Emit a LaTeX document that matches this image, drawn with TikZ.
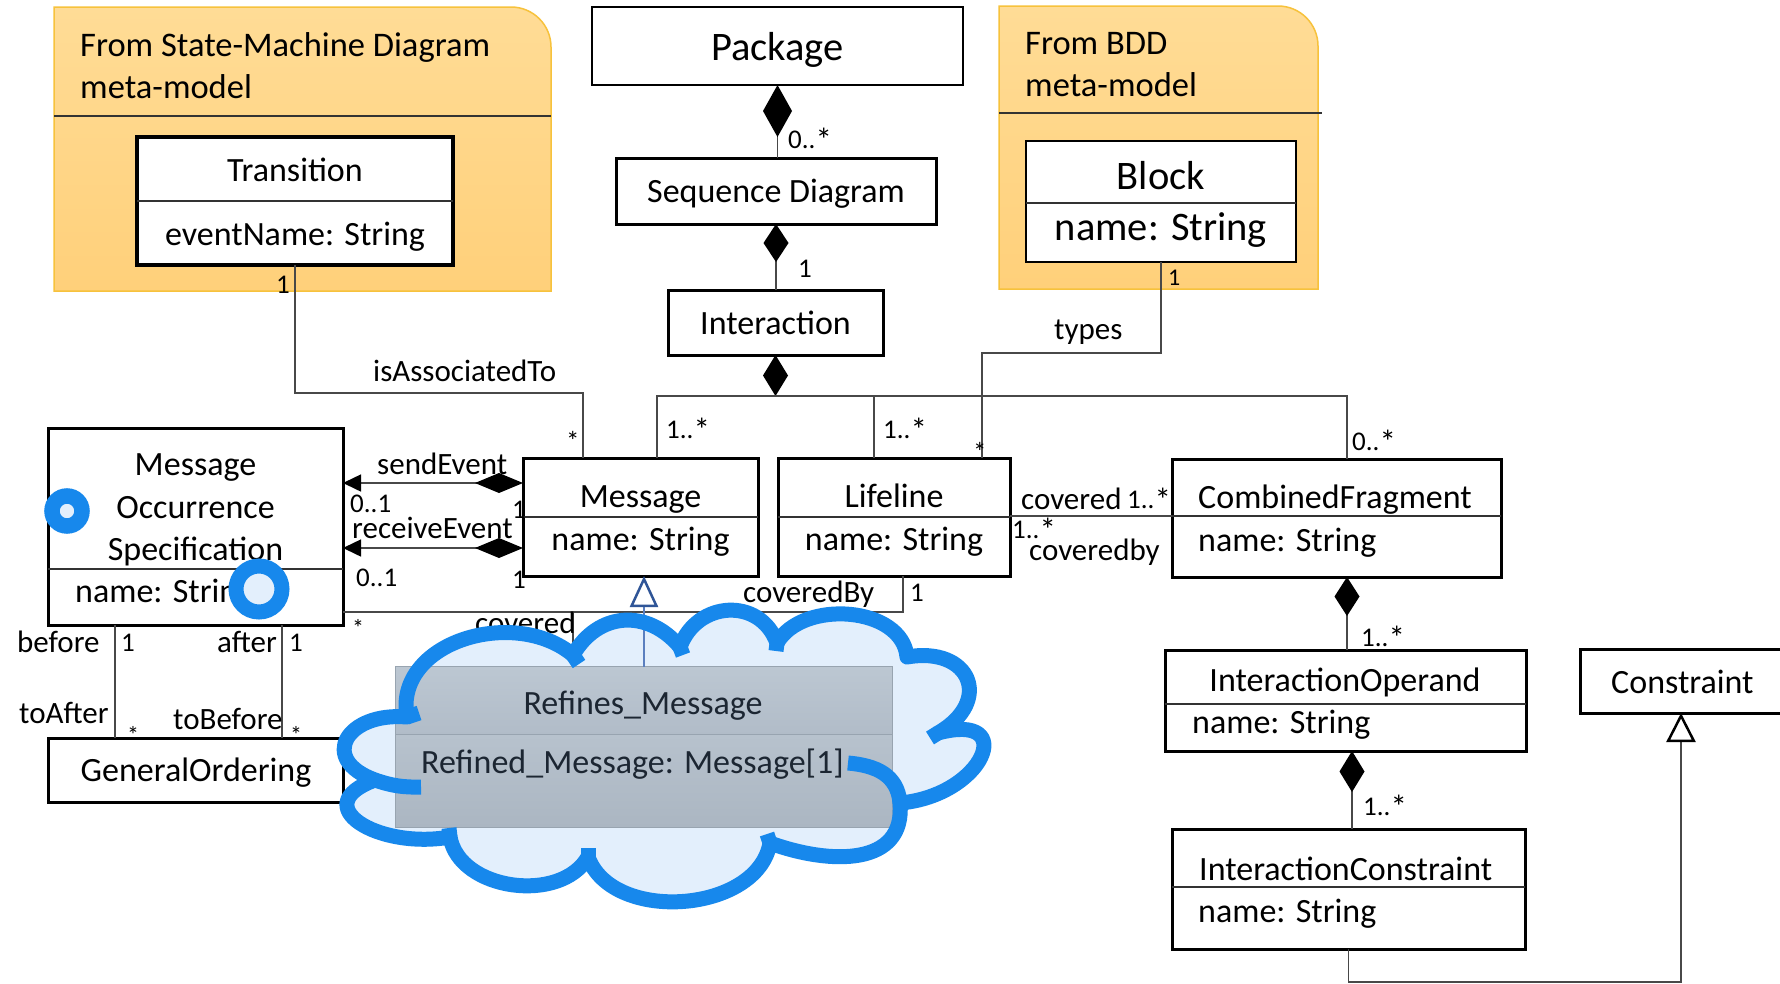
\documentclass[tikz,border=0pt]{standalone}
\usepackage{fontspec}
\setmainfont{Carlito}
\usetikzlibrary{arrows.meta,calc}

\definecolor{orgtop}{HTML}{FFDC96}
\definecolor{orgbot}{HTML}{FFD07A}
\definecolor{orgline}{HTML}{F7C23C}
\definecolor{cloudblue}{HTML}{1788EC}
\definecolor{cloudfill}{HTML}{E3EFFC}
\definecolor{refheadtop}{HTML}{BCC7D2}
\definecolor{refheadbot}{HTML}{B1BCC8}
\definecolor{refbodytop}{HTML}{B7C2CD}
\definecolor{refbodybot}{HTML}{ABB6C2}
\definecolor{refline}{HTML}{98A4B0}
\definecolor{reftext}{HTML}{1C2632}
\definecolor{genblue}{HTML}{2F5597}
\definecolor{genline}{HTML}{5B7FBF}
\definecolor{conncol}{HTML}{484848}

% multiplicity star, set a little larger than the digits around it
\newcommand\mstar{\raisebox{-3pt}{\fontsize{33}{33}\selectfont *}}

\begin{document}
\begin{tikzpicture}[x=1pt,y=-1pt,
  cls/.style={draw=black, line width=3pt, fill=white, inner sep=0pt, outer sep=0pt},
  thincls/.style={cls, line width=2pt},
  div/.style={line width=1.5pt, draw=black!80},
  conn/.style={line width=1.5pt, draw=conncol},
  pkgtitle/.style={font=\fontsize{34.5}{40}\selectfont, anchor=base west, inner sep=0pt},
  cname/.style={font=\fontsize{34}{40}\selectfont, anchor=base, inner sep=0pt},
  cleft/.style={font=\fontsize{34}{40}\selectfont, anchor=base west, inner sep=0pt},
  big/.style={font=\fontsize{40.5}{46}\selectfont, anchor=base, inner sep=0pt},
  role/.style={font=\fontsize{31}{36}\selectfont, anchor=base west, inner sep=0pt},
  mult/.style={font=\fontsize{27}{32}\selectfont, anchor=base west, inner sep=0pt},
  smallmult/.style={font=\fontsize{24}{28}\selectfont, anchor=base west, inner sep=0pt},
  compo/.style={{Diamond[length=#1, width=25pt, color=black]}-},
  cloudline/.style={draw=cloudblue, line width=15pt, line join=round},
  ring/.style={circle, draw=cloudblue, fill=cloudfill, inner sep=0pt},
]
\fill[white] (0,0) rectangle (1780,983);
\useasboundingbox (0,0) rectangle (1780,983);

% ---------- imported meta-model packages ----------
\draw[orgline, line width=1.5pt, top color=orgtop, bottom color=orgbot]
  (54,291) -- (54,7) -- (511,7) arc[start angle=-90, end angle=0, radius=40] -- (551,291) -- cycle;
\draw[div] (54,116) -- (551,116);
\node[pkgtitle] (smtitleA) at (80,56) {From State-Machine Diagram};
\node[pkgtitle] (smtitleB) at (80,98) {meta-model};

\draw[orgline, line width=1.5pt, top color=orgtop, bottom color=orgbot]
  (999,289) -- (999,6) -- (1278,6) arc[start angle=-90, end angle=0, radius=40] -- (1318,289) -- cycle;
\draw[div] (999,113) -- (1322,113);
\node[pkgtitle] (bddtitleA) at (1025,54) {From BDD};
\node[pkgtitle] (bddtitleB) at (1025,96) {meta-model};

% ---------- class boxes ----------
\node[thincls, minimum width=371pt, minimum height=78pt] (pkg) at (777.5,46) {};
\node[cls, minimum width=320pt, minimum height=66pt] (sd) at (776,191) {};
\node[cls, minimum width=215pt, minimum height=65pt] (inter) at (775.5,322.5) {};
\node[cls, line width=3.5pt, minimum width=316pt, minimum height=128pt] (trans) at (295,201) {};
\node[thincls, minimum width=270pt, minimum height=121pt] (blk) at (1161,201.5) {};
\node[cls, minimum width=295pt, minimum height=197pt] (mos) at (195.5,526.5) {};
\node[cls, minimum width=295pt, minimum height=64pt] (go) at (195.5,770) {};
\node[cls, minimum width=235pt, minimum height=118pt] (msg) at (640.5,517) {};
\node[cls, minimum width=232pt, minimum height=118pt] (lf) at (894,517) {};
\node[cls, minimum width=329pt, minimum height=118pt] (cf) at (1336.5,518) {};
\node[cls, minimum width=361pt, minimum height=101pt] (io) at (1345.5,700.5) {};
\node[cls, minimum width=353pt, minimum height=120pt] (ic) at (1348.5,889) {};
\node[cls, minimum width=202pt, minimum height=64pt] (cons) at (1681,681) {};

% compartment dividers
\draw[div] (trans.west) -- (trans.east);
\draw[div] ($(blk.north west)+(0,62)$) -- ($(blk.north east)+(0,62)$);
\draw[div] ($(mos.north west)+(0,141)$) -- ($(mos.north east)+(0,141)$);
\draw[div] (msg.west) -- (msg.east);
\draw[div] (lf.west) -- (lf.east);
\draw[div] ($(cf.north west)+(0,57)$) -- ($(cf.north east)+(0,57)$);
\draw[div] ($(io.north west)+(0,54)$) -- ($(io.north east)+(0,54)$);
\draw[div] ($(ic.north west)+(0,58)$) -- ($(ic.north east)+(0,58)$);

% ---------- connectors ----------
\draw[conn, {Diamond[length=52pt, width=29pt, color=black]}-] (pkg.south) -- (pkg.south |- sd.north);
\draw[conn, compo=38pt] (sd.south) -- (sd.south |- inter.north);
\coordinate (bus) at ($(inter.south)+(0,41)$);
\draw[conn, compo=41pt] (inter.south) -- (bus);
\draw[conn] ($(msg.north)+(16.5,0)$) |- ($(cf.north)+(10.5,-63)$) -- ($(cf.north)+(10.5,0)$);
\draw[conn] ($(lf.north)+(-20,0)$) -- ++(0,-62);

\draw[conn] (trans.south) -- ++(0,128) -| ($(msg.north)+(-57.5,0)$);
\draw[conn] (blk.south) -- ++(0,91) -| ($(lf.north)+(88,0)$);

\draw[conn, {Triangle[length=18pt, width=17pt, color=black]}-{Diamond[length=48pt, width=20pt, color=black]}]
  ($(mos.north east)+(0,55)$) -- ($(msg.north west)+(0,25)$);
\draw[conn, {Triangle[length=18pt, width=17pt, color=black]}-{Diamond[length=48pt, width=20pt, color=black]}]
  ($(mos.north east)+(0,120)$) -- ($(msg.north west)+(0,90)$);

\draw[conn] ($(mos.north east)+(0,184)$) -| ($(lf.south)+(9,0)$);
\coordinate (covj) at ($(mos.north east)+(230,184)$);
\draw[conn] (covj) -- ++(0,40);

\draw[conn] ($(mos.south west)+(67,0)$) -- ($(go.north west)+(67,0)$);
\draw[conn] ($(mos.south west)+(234,0)$) -- ($(go.north west)+(234,0)$);

\draw[conn] ($(lf.north east)+(0,58)$) -- ($(cf.north west)+(0,57)$);

\draw[conn, compo=39pt] ($(cf.south)+(10.5,0)$) -- ($(io.north)+(1.5,0)$);
\draw[conn, compo=41pt] ($(io.south)+(6.5,0)$) -- ($(ic.north)+(3.5,0)$);

\draw[conn, -{Triangle[open, fill=white, length=29pt, width=29pt, line width=2.5pt, color=black]}]
  (ic.south) -- ++(0,33) -| (cons.south);

% ---------- class texts ----------
\node[big] (tPkg) at (777.5,60) {Package};
\node[cname] (tSd) at (776,202) {Sequence Diagram};
\node[cname] (tInter) at (775.5,334) {Interaction};
\node[cname] (tTrans) at (295,181) {Transition};
\node[cname] (tTransA) at (295,245) {eventName: String};
\node[big] (tBlk) at (1161,189) {Block};
\node[big] (tBlkA) at (1161,240) {name: String};
\node[cname] (tMosA) at (195.5,475) {Message};
\node[cname] (tMosB) at (195.5,518) {Occurrence};
\node[cname] (tMosC) at (195.5,560) {Specification};
\node[cleft] (tMosAttr) at (75,602) {name: String};
\node[cname] (tGo) at (196,781) {GeneralOrdering};
\node[cname] (tMsg) at (640.5,507) {Message};
\node[cname] (tMsgA) at (640.5,550) {name: String};
\node[cname] (tLf) at (894,507) {Lifeline};
\node[cname] (tLfA) at (894,550) {name: String};
\node[cleft] (tCf) at (1198,508) {CombinedFragment};
\node[cleft] (tCfA) at (1198,551) {name: String};
\node[cname] (tIo) at (1345,691) {InteractionOperand};
\node[cleft] (tIoA) at (1192,733) {name: String};
\node[cleft] (tIc) at (1199,880) {InteractionConstraint};
\node[cleft] (tIcA) at (1198,922) {name: String};
\node[cleft] (tCons) at (1611,693) {Constraint};

% ---------- role names ----------
\node[role] (rAssoc) at (373,381) {isAssociatedTo};
\node[role] (rTypes) at (1054,339) {types};
\node[role] (rSend) at (377,474) {sendEvent};
\node[role] (rRecv) at (352,538) {receiveEvent};
\node[role] (rCov) at (475,633) {covered};
\node[role] (rCovBy) at (743,602) {coveredBy};
\node[role] (rCovCf) at (1021,509) {covered};
\node[role] (rCovByCf) at (1029,560) {coveredby};
\node[role] (rBefore) at (17,652) {before};
\node[role] (rAfter) at (217,652) {after};
\node[role] (rToAfter) at (19,723) {toAfter};
\node[role] (rToBefore) at (173,729) {toBefore};

% ---------- multiplicities ----------
\node[mult] (mPkg) at (788,148) {0..\mstar};
\node[mult] (mSd) at (798,277) {1};
\node[mult] (mTrans) at (276,293) {1};
\node[smallmult] (mBlk) at (1168,285) {1};
\node[mult] (mAssoc) at (566,450) {*};
\node[mult] (mMsg) at (666,438) {1..\mstar};
\node[mult] (mLf) at (883,438) {1..\mstar};
\node[mult] (mTypes) at (973,461) {*};
\node[mult] (mCf) at (1352,450) {0..\mstar};
\node[mult] (mSendA) at (350,512) {0..1};
\node[mult] (mSendB) at (512,518) {1};
\node[mult] (mRecvA) at (356,586) {0..1};
\node[mult] (mRecvB) at (512,588) {1};
\node[smallmult] (mCov) at (352,636) {*};
\node[mult] (mCovBy) at (910,601) {1};
\node[mult] (mCovCf) at (1127,508) {1..\mstar};
\node[mult] (mCovByCf) at (1012,538) {1..\mstar};
\node[mult] (mBefore) at (121,651) {1};
\node[mult] (mAfter) at (289,651) {1};
\node[smallmult] (mToAfter) at (127,743) {*};
\node[smallmult] (mToBefore) at (290,743) {*};
\node[mult] (mIo) at (1361,646) {1..\mstar};
\node[mult] (mIc) at (1363,815) {1..\mstar};

% ---------- cloud around the refinement class ----------
\coordinate (c1) at (407,717);
\coordinate (c2) at (573,655);
\coordinate (c3) at (680,647);
\coordinate (c4) at (777,643);
\coordinate (c5) at (907,657);
\coordinate (c6) at (938,733);
\coordinate (c7) at (900,803);
\coordinate (c8) at (770,843);
\coordinate (c9) at (588,857);
\coordinate (c10) at (450,837);
\coordinate (c11) at (375,780);

\fill[cloudfill] (c1)
  to[out=100, in=140, looseness=1.1] (c2)
  to[out=60, in=130, looseness=1.2] (c3)
  to[out=70, in=110, looseness=1.3] (c4)
  to[out=60, in=95, looseness=1] (c5)
  to[out=10, in=30, looseness=2] (c6)
  to[out=15, in=5, looseness=2.7] (c7)
  to[out=-85, in=-20, looseness=1.2] (c8)
  to[out=-100, in=-70, looseness=1] (c9)
  to[out=-120, in=-80, looseness=1] (c10)
  to[out=190, in=200, looseness=2] (c11)
  to[out=160, in=175, looseness=2.2] (c1) -- cycle;

\node[draw=refline, line width=1pt, inner sep=0pt, minimum width=496pt, minimum height=160pt] (ref) at (644,747) {};
\shade[top color=refheadtop, bottom color=refheadbot] (ref.north west) rectangle ($(ref.north east)+(0,68)$);
\shade[top color=refbodytop, bottom color=refbodybot] ($(ref.north west)+(0,68)$) rectangle (ref.south east);
\draw[refline, line width=1pt] (ref.north west) rectangle (ref.south east);
\draw[refline, line width=1.5pt] ($(ref.north west)+(0,68)$) -- ($(ref.north east)+(0,68)$);
\node[cname, text=reftext] (tRef) at (643,714) {Refines\_Message};
\node[cleft, text=reftext] (tRefA) at (421,773) {Refined\_Message: Message[1]};

\draw[genline, line width=1.5pt, -{Triangle[open, fill=white, length=31pt, width=28pt, line width=2.5pt, color=genblue]}]
  (ref.north) -- (ref.north |- msg.south);

\draw[cloudline] (c1)
  to[out=100, in=140, looseness=1.1] (c2)
  to[out=60, in=130, looseness=1.2] (c3)
  to[out=70, in=110, looseness=1.3] (c4)
  to[out=60, in=95, looseness=1] (c5)
  to[out=10, in=30, looseness=2] (c6)
  to[out=15, in=5, looseness=2.7] (c7)
  to[out=-85, in=-20, looseness=1.2] (c8)
  to[out=-100, in=-70, looseness=1] (c9)
  to[out=-120, in=-80, looseness=1] (c10)
  to[out=190, in=200, looseness=2] (c11)
  to[out=160, in=175, looseness=2.2] (c1) -- cycle;

% inner creases of the cloud
\draw[cloudline] (c11) to[bend right=10] (421,787);
\draw[cloudline] (848,763) to[out=-5, in=95, looseness=1.1] (c7);
\draw[cloudline] (c1) -- (419,713);
\draw[cloudline] (c2) -- (579,664);
\draw[cloudline] (c3) -- (683,655);
\draw[cloudline] (c4) -- (776,651);
\draw[cloudline] (c6) -- (930,738);
\draw[cloudline] (c8) -- (767,834);
\draw[cloudline] (c9) -- (588,848);
\draw[cloudline] (c10) -- (449,828);

% ---------- highlight rings ----------
\node[ring, line width=15.5pt, minimum size=30pt] (ringA) at (67,511) {};
\node[ring, line width=15pt, minimum size=46pt] (ringB) at (259,589) {};

\end{tikzpicture}
\end{document}
